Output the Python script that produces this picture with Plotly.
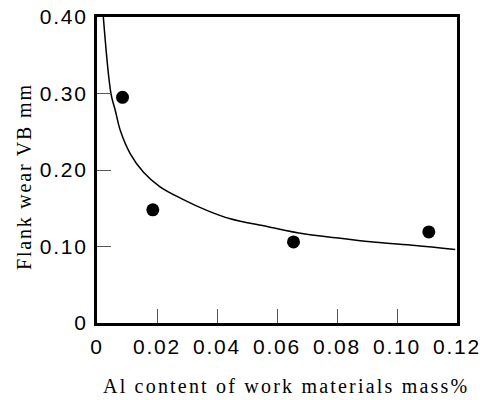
import plotly.graph_objects as go

# Measured points
al_content = [0.0085, 0.0186, 0.0655, 0.1106]
flank_wear = [0.295, 0.148, 0.106, 0.119]

# Fitted curve
curve_x = [0.00211, 0.00467, 0.0061, 0.00777, 0.0111, 0.0155, 0.0209, 0.0283,
           0.0372, 0.0444, 0.0567, 0.0689, 0.0811, 0.0928, 0.1061, 0.1194]
curve_y = [0.400, 0.2996, 0.2778, 0.2516, 0.2212, 0.1971, 0.1784, 0.1623,
           0.1462, 0.1362, 0.1261, 0.1166, 0.1109, 0.1056, 0.1013, 0.0961]

x_ticks = [0, 0.02, 0.04, 0.06, 0.08, 0.10, 0.12]
x_labels = ["0", "0.02", "0.04", "0.06", "0.08", "0.10", "0.12"]
y_ticks = [0, 0.10, 0.20, 0.30, 0.40]
y_labels = ["0", "0.10", "0.20", "0.30", "0.40"]

x_title = "Al content of work materials mass%"
y_title = "Flank wear VB mm"

fig = go.Figure()
fig.add_trace(go.Scatter(x=curve_x, y=curve_y, mode="lines",
                         line=dict(color="black", width=1.5, shape="spline", smoothing=1.0),
                         hoverinfo="skip"))
fig.add_trace(go.Scatter(x=al_content, y=flank_wear, mode="markers",
                         marker=dict(color="black", size=13)))

def spaced(t, ls):
    return '<span style="letter-spacing:%spx">%s</span>' % (ls, t)

fig.update_layout(
    template="none",
    width=483, height=400,
    margin=dict(l=97, r=26, t=17, b=77, autoexpand=False),
    paper_bgcolor="white", plot_bgcolor="white",
    showlegend=False,
    font=dict(family="Liberation Sans", color="black"),
    xaxis=dict(range=[0, 0.12], tickvals=x_ticks,
               ticktext=[spaced(t, 1.8) for t in x_labels],
               ticks="inside", ticklen=14, tickwidth=1, tickcolor="#555",
               showline=True, linewidth=3, linecolor="black", mirror=True,
               showgrid=False, zeroline=False, automargin=False,
               tickfont=dict(size=21, family="Liberation Sans"),
               ticklabelstandoff=3),
    yaxis=dict(range=[0, 0.40], tickvals=y_ticks,
               ticktext=[spaced(t, 1.8) for t in y_labels],
               ticks="inside", ticklen=14, tickwidth=1, tickcolor="#555",
               showline=True, linewidth=3, linecolor="black", mirror=True,
               showgrid=False, zeroline=False, automargin=False,
               tickfont=dict(size=21, family="Liberation Sans"),
               ticklabelstandoff=2),
    annotations=[
        dict(text=spaced(x_title, 2.2), xref="paper", yref="paper", x=0.5, y=0,
             xanchor="center", yanchor="middle", xshift=9, yshift=-63,
             showarrow=False, font=dict(family="Liberation Serif", size=20)),
        dict(text=spaced(y_title, 1.8), xref="paper", yref="paper", x=0, y=0.5,
             xanchor="center", yanchor="middle", xshift=-73, yshift=-7,
             textangle=-90, showarrow=False,
             font=dict(family="Liberation Serif", size=20)),
    ],
)

fig.write_html("out.html")
